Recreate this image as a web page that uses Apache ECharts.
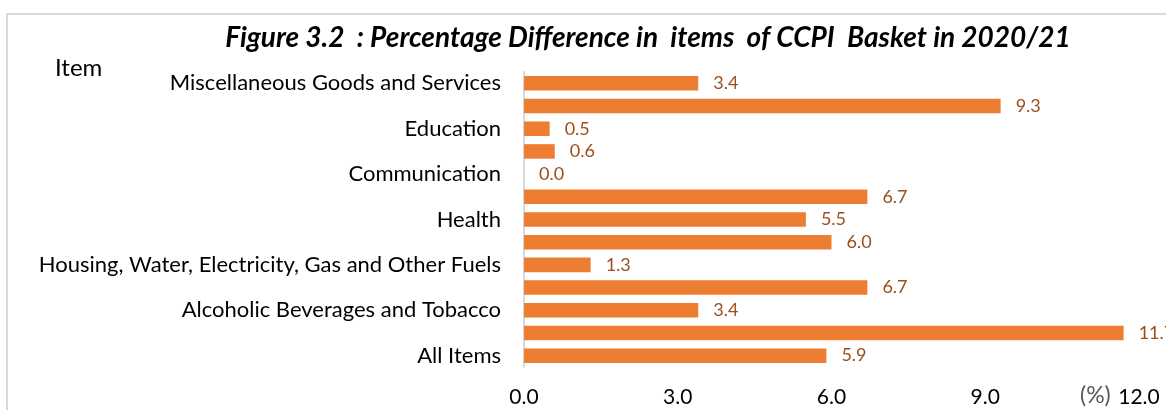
<!DOCTYPE html>
<html><head><meta charset="utf-8">
<script src="https://cdn.jsdelivr.net/npm/echarts@6/dist/echarts.min.js"></script>
<style>html,body{margin:0;padding:0;background:#fff}#c{width:1166px;height:410px}</style>
</head><body><div id="c"></div>
<script>
// Bottom-to-top order
const categories = [
  "All Items",
  "Food and Non-Alcoholic Beverages",
  "Alcoholic Beverages and Tobacco",
  "Clothing and Footwear",
  "Housing, Water, Electricity, Gas and Other Fuels",
  "Furnishing, Household Equipment and Routine Household Maintenance",
  "Health",
  "Transport",
  "Communication",
  "Recreation and Culture",
  "Education",
  "Restaurants and Hotels",
  "Miscellaneous Goods and Services"
];
const values = [5.9, 11.7, 3.4, 6.7, 1.3, 6.0, 5.5, 6.7, 0.0, 0.6, 0.5, 9.3, 3.4];
const xTicks = [0, 3, 6, 9, 12];
const titleText = "Figure 3.2  : Percentage Difference in  items  of CCPI  Basket in 2020/21";
const yAxisName = "Item";
const xAxisUnit = "(%)";

const FONT = "Lato";
const chart = echarts.init(document.getElementById('c'), null, {renderer: 'canvas'});
chart.setOption({
  backgroundColor: '#fff',
  animation: false,
  title: {
    text: titleText,
    left: 643, top: 19, textAlign: 'center',
    textStyle: {fontFamily: FONT, fontSize: 28, fontWeight: 'bold', fontStyle: 'italic', color: '#000'}
  },
  graphic: [
    {type: 'rect', shape: {x: 7, y: 14, width: 1300, height: 600},
     style: {fill: 'none', stroke: '#d9d9d9', lineWidth: 2}, silent: true},
    {type: 'text', left: 55, top: 56, style: {text: yAxisName, fontFamily: FONT, fontSize: 24, fill: '#000'}},
    {type: 'text', left: 1080, top: 384, style: {text: xAxisUnit, fontFamily: FONT, fontSize: 23, fill: '#595959'}}
  ],
  grid: {left: 524, right: 27, top: 72, bottom: 43, containLabel: false},
  xAxis: {
    type: 'value', min: xTicks[0], max: xTicks[xTicks.length - 1], interval: 3,
    axisLine: {show: false}, axisTick: {show: false}, splitLine: {show: false},
    axisLabel: {formatter: v => v.toFixed(1), fontFamily: FONT, fontSize: 21, color: '#000', margin: 20}
  },
  yAxis: {
    type: 'category', data: categories,
    axisLine: {show: true, lineStyle: {color: '#d9d9d9', width: 2}},
    axisTick: {show: false},
    axisLabel: {interval: 1, fontFamily: FONT, fontSize: 22, color: '#000', margin: 23}
  },
  series: [{
    type: 'bar', data: values, barCategoryGap: '36%',
    itemStyle: {color: '#ED7D31'},
    label: {show: true, position: 'right', distance: 15, formatter: p => p.value.toFixed(1),
      fontFamily: FONT, fontSize: 18, color: '#9C4F1C'}
  }]
});
</script></body></html>
